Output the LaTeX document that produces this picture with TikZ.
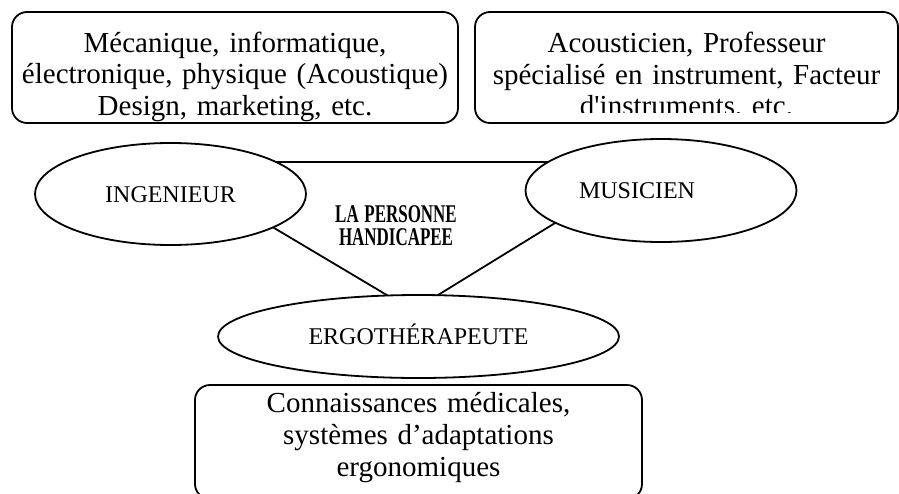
\documentclass[tikz,border=0pt]{standalone}
\usepackage{fontspec}
\setmainfont{Liberation Serif}
\usetikzlibrary{shapes.geometric}

\begin{document}
\begin{tikzpicture}[x=1pt, y=-1pt, line width=1.8pt,
    cadre/.style={draw, rounded corners=15pt, inner sep=0pt, outer sep=0pt,
      align=center, text width=#1, minimum width=#1, minimum height=111pt,
      text height=20pt, font=\fontsize{29}{31.5}\selectfont},
    ell/.style={ellipse, draw, inner sep=0pt, outer sep=0pt,
      minimum width=271pt, minimum height=102pt, text height=16pt,
      text depth=0pt, font=\fontsize{24}{24}\selectfont}]
    \useasboundingbox (0,0) rectangle (899,493);

    \node[cadre=446pt, text depth=51pt] (techbox) at (235,67.5)
      {Mécanique, informatique,\\électronique, physique (Acoustique)\\Design, marketing, etc.};
    \node[cadre=423pt, text depth=50pt] (metbox) at (686.5,67.5) {};
    \begin{scope}
      \clip (metbox.north west) rectangle ([yshift=10.5pt]metbox.south east);
      \node[cadre=423pt, draw=none, text depth=50pt] (met) at (metbox)
        {Acousticien, Professeur\\spécialisé en instrument, Facteur\\d\textquotesingle instruments, etc.};
    \end{scope}

    \node[ell] (ing) at (170.5,194) {INGENIEUR};
    \node[ell, minimum height=103pt,
      label={[xshift=-24pt, font=\fontsize{24}{24}\selectfont]center:MUSICIEN}] (mus) at (661,190.5) {};
    \node[ell, minimum width=401pt, minimum height=83pt] (ergo) at (418.5,336.5) {ERGOTHÉRAPEUTE};
    \node[align=center, text width=130pt, inner sep=0pt, text height=17pt, text depth=23pt,
      font=\bfseries\fontsize{25.5}{23}\selectfont] (pers) at (396,225)
      {\scalebox{0.665}[1]{LA PERSONNE}\\\scalebox{0.665}[1]{HANDICAPEE}};

    \draw (ing.17) -- (ing.17 -| mus.166);
    \draw (ing.-18) -- (ergo.127);
    \draw (mus.-163) -- (ergo.65);

    \node[cadre=447pt, minimum height=114pt, text depth=78.6pt,
      font=\fontsize{29}{32}\selectfont] (medbox) at (418.5,442)
      {Connaissances médicales,\\systèmes d’adaptations\\ergonomiques};
  \end{tikzpicture}
\end{document}
